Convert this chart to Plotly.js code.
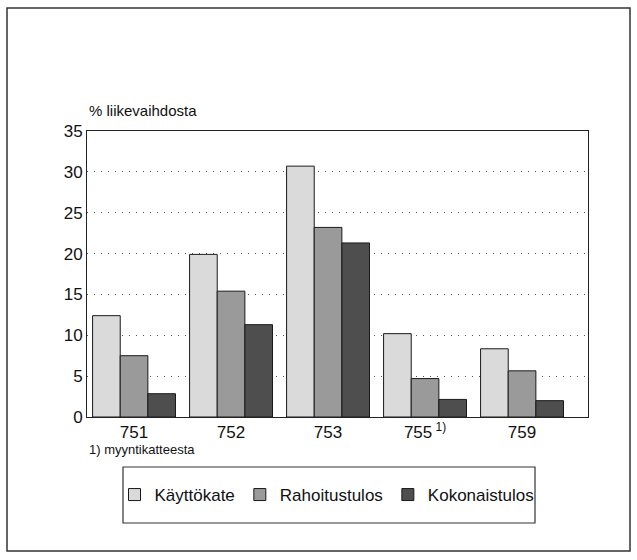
<!DOCTYPE html>
<html>
<head>
<meta charset="utf-8">
<script src="https://cdn.plot.ly/plotly-3.0.1.min.js"></script>
<style>
html,body{margin:0;padding:0;background:#fff;}
#chart{width:637px;height:560px;}
</style>
</head>
<body>
<div id="chart"></div>
<script>
var categories = ["751", "752", "753", "755", "759"];
var tickLabels = ["751", "752", "753", "755<sup> 1)</sup>", "759"];
var seriesNames = ["Käyttökate", "Rahoitustulos", "Kokonaistulos"];
var kayttokate = [12.4, 19.9, 30.7, 10.2, 8.35];
var rahoitustulos = [7.5, 15.4, 23.2, 4.7, 5.65];
var kokonaistulos = [2.85, 11.3, 21.3, 2.15, 2.0];
var yTicks = [0, 5, 10, 15, 20, 25, 30, 35];

var fillColors = ["#dadada", "#9a9a9a", "#4e4e4e"];
var values = [kayttokate, rahoitustulos, kokonaistulos];

var traces = values.map(function (v, i) {
  return {
    type: "bar",
    name: seriesNames[i],
    x: categories,
    y: v,
    marker: {
      color: fillColors[i],
      line: {color: "#1a1a1a", width: 1}
    },
    hoverinfo: "none"
  };
});

var L = 87, R = 588, T = 131, B = 417;
function px(x) { return (x - L) / (R - L); }
function py(y) { return (B - y) / (B - T); }

var layout = {
  width: 637, height: 560,
  margin: {l: L, r: 637 - R, t: T, b: 560 - B},
  paper_bgcolor: "#fff", plot_bgcolor: "#fff",
  font: {family: "Liberation Sans, Arial, sans-serif", color: "#111"},
  barmode: "group",
  bargap: 0.145,
  bargroupgap: 0,
  showlegend: true,
  legend: {
    orientation: "h",
    x: px(327), xanchor: "center",
    y: py(477), yanchor: "top",
    font: {size: 17, color: "#111"},
    bgcolor: "rgba(0,0,0,0)",
    borderwidth: 0,
    itemclick: false
  },
  xaxis: {
    type: "category",
    range: [-0.485, 4.68],
    tickmode: "array",
    tickvals: categories,
    ticktext: tickLabels,
    ticks: "",
    showgrid: false,
    showline: true, linecolor: "#222", linewidth: 1, mirror: true,
    tickfont: {size: 17, color: "#111"},
    fixedrange: true
  },
  yaxis: {
    range: [0, 35],
    tickmode: "array",
    tickvals: yTicks,
    ticks: "",
    showgrid: true,
    gridcolor: "#555",
    griddash: "1px,6px",
    gridwidth: 1,
    zeroline: false,
    showline: true, linecolor: "#222", linewidth: 1, mirror: true,
    tickfont: {size: 17, color: "#111"},
    fixedrange: true
  },
  annotations: [
    {text: "% liikevaihdosta", xref: "paper", yref: "paper", x: px(87), y: py(110),
     xanchor: "left", yanchor: "middle", showarrow: false, font: {size: 15, color: "#111"}},
    {text: "1) myyntikatteesta", xref: "paper", yref: "paper", x: px(87), y: py(449),
     xanchor: "left", yanchor: "middle", showarrow: false, font: {size: 13, color: "#111"}}
  ],
  shapes: [
    {type: "rect", xref: "paper", yref: "paper", x0: px(7), x1: px(630), y0: py(551), y1: py(8),
     line: {color: "#333", width: 1.5}, fillcolor: "rgba(0,0,0,0)", layer: "below"},
    {type: "rect", xref: "paper", yref: "paper", x0: px(123), x1: px(535), y0: py(523), y1: py(467),
     line: {color: "#333", width: 1.2}, fillcolor: "rgba(0,0,0,0)"}
  ]
};

Plotly.newPlot("chart", traces, layout, {staticPlot: true, displayModeBar: false});
</script>
</body>
</html>
